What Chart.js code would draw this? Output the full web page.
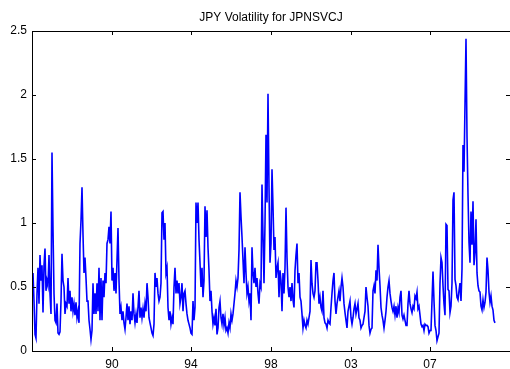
<!DOCTYPE html>
<html lang="en">
<head>
  <meta charset="UTF-8">
  <title>JPY Volatility for JPNSVCJ</title>
  <script src="https://cdn.jsdelivr.net/npm/chart.js"></script>
  <style>
    html, body { margin: 0; padding: 0; background: #fff; }
    #chart { display: block; }
  </style>
</head>
<body>
  <canvas id="chart" width="510" height="369"></canvas>

  <script>
    // Estimated volatility, one sample per observation step
    const vol = [
      0.61, 0.39, 0.13, 0.10, 0.45, 0.65, 0.37, 0.75, 0.55, 0.67,
      0.30, 0.67, 0.80, 0.47, 0.55, 0.51, 0.75, 0.45, 0.29, 1.55,
      0.95, 0.45, 0.24, 0.22, 0.37, 0.14, 0.13, 0.15, 0.39, 0.76,
      0.55, 0.50, 0.29, 0.37, 0.35, 0.57, 0.37, 0.47, 0.31, 0.42,
      0.31, 0.37, 0.28, 0.38, 0.26, 0.31, 0.22, 0.84, 1.02, 1.28,
      0.91, 0.61, 0.73, 0.57, 0.39, 0.39, 0.24, 0.17, 0.09, 0.16,
      0.53, 0.29, 0.45, 0.29, 0.53, 0.31, 0.65, 0.24, 0.57, 0.24,
      0.55, 0.42, 0.61, 0.53, 0.84, 0.87, 0.97, 0.84, 1.09, 0.55,
      // 90
      0.65, 0.47, 0.61, 0.45, 0.71, 0.96, 0.55, 0.29, 0.34, 0.24,
      0.31, 0.22, 0.17, 0.26, 0.37, 0.24, 0.35, 0.21, 0.31, 0.24,
      0.45, 0.29, 0.22, 0.29, 0.22, 0.34, 0.47, 0.26, 0.34, 0.26,
      0.33, 0.26, 0.37, 0.31, 0.53, 0.42, 0.26, 0.22, 0.18, 0.14,
      0.12, 0.21, 0.61, 0.50, 0.57, 0.45, 0.39, 0.42, 0.53, 1.08,
      1.09, 0.87, 1.00, 0.61, 0.65, 0.34, 0.24, 0.31, 0.21, 0.26,
      0.21, 0.50, 0.65, 0.45, 0.55, 0.45, 0.53, 0.37, 0.42, 0.53,
      0.31, 0.45, 0.47, 0.37, 0.29, 0.24, 0.21, 0.18, 0.14, 0.13,
      // 94
      0.39, 0.24, 0.34, 1.16, 1.00, 1.16, 0.87, 0.69, 0.50, 0.65,
      0.42, 0.55, 1.13, 0.89, 1.10, 0.81, 0.63, 0.39, 0.47, 0.31,
      0.21, 0.26, 0.20, 0.33, 0.13, 0.18, 0.34, 0.39, 0.26, 0.21,
      0.29, 0.20, 0.26, 0.16, 0.18, 0.14, 0.22, 0.18, 0.29, 0.24,
      0.29, 0.37, 0.45, 0.55, 0.50, 0.57, 0.79, 1.24, 1.05, 0.89,
      0.71, 0.53, 0.81, 0.61, 0.45, 0.50, 0.39, 0.45, 0.24, 0.81,
      0.61, 0.53, 0.65, 0.50, 0.57, 0.45, 0.37, 0.53, 0.50, 1.30,
      0.90, 0.53, 1.00, 1.69, 1.16, 2.01, 1.28, 0.69, 0.84, 1.42,
      // 98
      1.13, 0.79, 0.89, 0.57, 0.65, 0.69, 0.42, 0.63, 0.55, 0.31,
      0.61, 0.45, 0.65, 1.12, 0.73, 0.50, 0.42, 0.50, 0.39, 0.53,
      0.40, 0.34, 0.63, 0.75, 0.84, 0.53, 0.61, 0.42, 0.39, 0.29,
      0.18, 0.24, 0.20, 0.18, 0.24, 0.21, 0.26, 0.31, 0.71, 0.53,
      0.45, 0.42, 0.47, 0.69, 0.69, 0.55, 0.37, 0.42, 0.34, 0.31,
      0.47, 0.26, 0.22, 0.21, 0.18, 0.24, 0.22, 0.21, 0.34, 0.45,
      0.55, 0.61, 0.39, 0.29, 0.37, 0.42, 0.47, 0.39, 0.50, 0.57,
      0.50, 0.37, 0.30, 0.24, 0.18, 0.31, 0.35, 0.39, 0.26, 0.21,
      // 03
      0.26, 0.33, 0.37, 0.29, 0.33, 0.37, 0.26, 0.24, 0.18, 0.20,
      0.21, 0.26, 0.31, 0.50, 0.42, 0.35, 0.20, 0.14, 0.17, 0.18,
      0.47, 0.51, 0.45, 0.63, 0.55, 0.83, 0.65, 0.51, 0.34, 0.28,
      0.24, 0.18, 0.24, 0.31, 0.42, 0.50, 0.55, 0.45, 0.39, 0.34,
      0.31, 0.35, 0.28, 0.35, 0.26, 0.34, 0.30, 0.42, 0.47, 0.28,
      0.25, 0.28, 0.24, 0.20, 0.20, 0.37, 0.47, 0.37, 0.33, 0.30,
      0.35, 0.33, 0.43, 0.41, 0.46, 0.33, 0.35, 0.28, 0.21, 0.19,
      0.20, 0.16, 0.21, 0.20, 0.20, 0.19, 0.14, 0.16, 0.16, 0.39,
      // 07
      0.62, 0.39, 0.20, 0.16, 0.08, 0.11, 0.14, 0.53, 0.73, 0.69,
      0.51, 0.37, 0.28, 0.99, 0.98, 0.48, 0.47, 0.30, 0.35, 0.53,
      1.18, 1.24, 0.56, 0.51, 0.42, 0.40, 0.47, 0.53, 0.39, 0.64,
      1.61, 1.40, 1.93, 2.44, 1.68, 1.22, 0.85, 0.69, 1.09, 0.83,
      1.17, 0.67, 0.77, 1.03, 0.61, 0.51, 0.47, 0.46, 0.35, 0.32,
      0.40, 0.34, 0.38, 0.46, 0.73, 0.63, 0.46, 0.38, 0.43, 0.35,
      0.32, 0.24, 0.22
    ];

    // Year ticks on the observation axis
    const xTickPos = [79, 158, 238, 318, 397];
    const xTickLabels = ['90', '94', '98', '03', '07'];
    const yTicks = [0, 0.5, 1, 1.5, 2, 2.5];

    const FONT = { family: '"Liberation Sans", Arial, Helvetica, sans-serif', size: 12 };

    // axes box with inward tick marks on all four sides
    const matlabBox = {
      id: 'matlabBox',
      afterDraw(chart) {
        const { ctx, chartArea: a, scales: { x, y } } = chart;
        ctx.save();
        ctx.strokeStyle = '#000';
        ctx.lineWidth = 1;
        ctx.beginPath();
        ctx.rect(a.left + 0.5, a.top + 0.5, a.right - a.left, a.bottom - a.top);
        xTickPos.forEach(v => {
          const px = Math.round(x.getPixelForValue(v)) + 0.5;
          ctx.moveTo(px, a.bottom); ctx.lineTo(px, a.bottom - 4);
          ctx.moveTo(px, a.top); ctx.lineTo(px, a.top + 4);
        });
        yTicks.forEach(v => {
          const py = Math.round(y.getPixelForValue(v)) + 0.5;
          ctx.moveTo(a.left, py); ctx.lineTo(a.left + 4, py);
          ctx.moveTo(a.right, py); ctx.lineTo(a.right - 4, py);
        });
        ctx.stroke();
        ctx.restore();
      }
    };

    new Chart(document.getElementById('chart'), {
      type: 'line',
      data: {
        datasets: [{
          data: vol.map((v, i) => ({ x: i, y: v })),
          borderColor: '#0000ff',
          borderWidth: 1.6,
          pointRadius: 0,
          tension: 0,
          fill: false
        }]
      },
      options: {
        responsive: false,
        animation: false,
        layout: { padding: 0 },
        plugins: {
          legend: { display: false },
          tooltip: { enabled: false },
          title: {
            display: true,
            text: 'JPY Volatility for JPNSVCJ',
            fullSize: false,
            color: '#000',
            font: { ...FONT, weight: 'normal' },
            padding: { top: 10, bottom: 6.6 }
          }
        },
        scales: {
          x: {
            type: 'linear',
            min: -1,
            max: 477,
            grid: { display: false, drawTicks: false, tickLength: 0 },
            border: { display: false },
            afterBuildTicks: s => { s.ticks = xTickPos.map(v => ({ value: v })); },
            afterFit: s => { s.height = 18; },
            ticks: {
              color: '#000',
              font: FONT,
              padding: 6.5,
              maxRotation: 0,
              autoSkip: false,
              callback: v => xTickLabels[xTickPos.indexOf(v)]
            }
          },
          y: {
            min: 0,
            max: 2.5,
            grid: { display: false, drawTicks: false, tickLength: 0 },
            border: { display: false },
            afterBuildTicks: s => { s.ticks = yTicks.map(v => ({ value: v })); },
            afterFit: s => { s.width = 32; },
            ticks: {
              color: '#000',
              font: FONT,
              padding: 5,
              callback: v => String(v)
            }
          }
        }
      },
      plugins: [matlabBox]
    });
  </script>
</body>
</html>
